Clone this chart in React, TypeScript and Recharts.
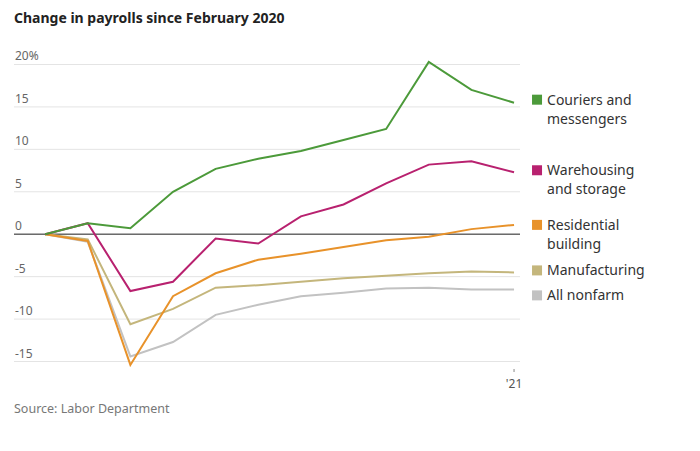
import React from "react";
import {
  LineChart,
  Line,
  XAxis,
  YAxis,
  CartesianGrid,
  ReferenceLine,
} from "recharts";

// Feb 2020 .. Jan 2021
const months = ["Feb", "Mar", "Apr", "May", "Jun", "Jul", "Aug", "Sep", "Oct", "Nov", "Dec", "Jan"];

const couriers = [0, 1.3, 0.7, 5.0, 7.7, 8.9, 9.8, 11.1, 12.4, 20.3, 17.0, 15.5];
const warehousing = [0, 1.3, -6.7, -5.6, -0.5, -1.1, 2.1, 3.5, 6.0, 8.2, 8.6, 7.3];
const residential = [0, -0.8, -15.4, -7.3, -4.6, -3.0, -2.3, -1.5, -0.7, -0.3, 0.6, 1.1];
const manufacturing = [0, -0.6, -10.6, -8.8, -6.3, -6.0, -5.6, -5.2, -4.9, -4.6, -4.4, -4.5];
const nonfarm = [0, -0.9, -14.4, -12.7, -9.5, -8.3, -7.3, -6.9, -6.4, -6.3, -6.5, -6.5];

const yTicks = [20, 15, 10, 5, 0, -5, -10, -15];
const xTicks = [11];

const data = months.map((m, i) => ({
  i,
  month: m,
  couriers: couriers[i],
  warehousing: warehousing[i],
  residential: residential[i],
  manufacturing: manufacturing[i],
  nonfarm: nonfarm[i],
}));

const series = [
  { key: "nonfarm", label: ["All nonfarm"], color: "#c2c2c2", nudge: 6 },
  { key: "manufacturing", label: ["Manufacturing"], color: "#c4b67c", nudge: -2 },
  { key: "residential", label: ["Residential", "building"], color: "#e8922a", nudge: 0 },
  { key: "warehousing", label: ["Warehousing", "and storage"], color: "#b8216f", nudge: -2 },
  { key: "couriers", label: ["Couriers and", "messengers"], color: "#4c9a3a", nudge: -3 },
];

const FONT = "'Noto Sans', sans-serif";
const last = months.length - 1;

function endLabel(s: (typeof series)[number]) {
  return (p: any) => {
    if (p.index !== last) return <g key={`d-${s.key}-${p.index}`} />;
    const x = p.cx + 18;
    const y = p.cy + s.nudge;
    return (
      <g key={`d-${s.key}-${p.index}`}>
        <rect x={x} y={y - 5} width={10} height={10} fill={s.color} />
        {s.label.map((t, k) => (
          <text
            key={t}
            x={x + 15}
            y={y + k * 19}
            dy={5}
            fontSize={14}
            fontFamily={FONT}
            fill="#333"
          >
            {t}
          </text>
        ))}
      </g>
    );
  };
}

const renderYTick = (props: any) => {
  const { x, y, payload } = props;
  return (
    <text
      key={`yt-${payload.value}`}
      x={x + 1}
      y={y - 4}
      fontSize={12}
      fontFamily={FONT}
      fill="#666"
      textAnchor="start"
    >
      {payload.value === 20 ? "20%" : String(payload.value)}
    </text>
  );
};

const renderXTick = (props: any) => {
  const { x, y, payload } = props;
  return (
    <g key={`xt-${payload.value}`}>
      <line x1={x} x2={x} y1={y - 1} y2={y + 2} stroke="#888" />
      <text x={x} y={y + 18} fontSize={12} fontFamily={FONT} fill="#555" textAnchor="middle">
        '21
      </text>
    </g>
  );
};

export default function App() {
  return (
    <div style={{ position: "absolute", left: 0, top: 0, width: 700, height: 451, background: "#fff" }}>
      <div
        style={{
          position: "absolute",
          left: 14,
          top: 8,
          fontFamily: FONT,
          fontWeight: 700,
          fontSize: 14,
          color: "#222",
        }}
      >
        Change in payrolls since February 2020
      </div>
      <LineChart
        width={700}
        height={451}
        data={data}
        margin={{ top: 56, right: 180, bottom: 51, left: 0 }}
      >
        <CartesianGrid
          horizontal
          vertical={false}
          horizontalValues={yTicks}
          stroke="#e4e4e4"
        />
        <XAxis
          dataKey="i"
          type="number"
          domain={[-0.73, 11.14]}
          ticks={xTicks}
          height={30}
          axisLine={false}
          tickLine={false}
          tickSize={0}
          tickMargin={0}
          tick={renderXTick}
        />
        <YAxis
          type="number"
          domain={[-16, 21]}
          ticks={yTicks}
          width={14}
          axisLine={false}
          tickLine={false}
          tickSize={0}
          tickMargin={0}
          tick={renderYTick}
        />
        <ReferenceLine y={0} stroke="#6b6b6b" strokeWidth={1.5} />
        {series.map((s) => (
          <Line
            key={s.key}
            dataKey={s.key}
            type="linear"
            stroke={s.color}
            strokeWidth={2}
            dot={endLabel(s)}
            activeDot={false}
            isAnimationActive={false}
          />
        ))}
      </LineChart>
      <div
        style={{
          position: "absolute",
          left: 14,
          top: 400,
          fontFamily: FONT,
          fontSize: 12.5,
          color: "#777",
        }}
      >
        Source: Labor Department
      </div>
    </div>
  );
}
